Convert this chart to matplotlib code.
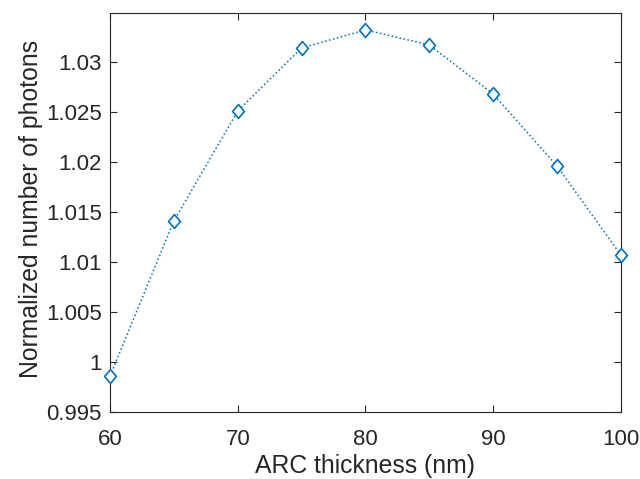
import matplotlib
matplotlib.use("Agg")
import matplotlib.pyplot as plt
from matplotlib.path import Path

thickness = [60, 65, 70, 75, 80, 85, 90, 95, 100]
photons = [0.9986, 1.0141, 1.0251, 1.0314, 1.0332, 1.0317, 1.0268, 1.0196, 1.0107]
xticks = [60, 70, 80, 90, 100]
yticks = [0.995, 1.0, 1.005, 1.01, 1.015, 1.02, 1.025, 1.03]
yticklabels = ["0.995", "1", "1.005", "1.01", "1.015", "1.02", "1.025", "1.03"]

plt.rcParams['font.family'] = ['Liberation Sans', 'DejaVu Sans']
dark = '#262626'

fig = plt.figure(figsize=(6.4, 4.79), dpi=100)
ax = fig.add_axes([0.172, 0.140, 0.798, 0.833])

diamond = Path([(0, 1), (0.85, 0), (0, -1), (-0.85, 0), (0, 1)],
               [Path.MOVETO, Path.LINETO, Path.LINETO, Path.LINETO, Path.CLOSEPOLY])
ax.plot(thickness, photons, linestyle=':', color='#0072BD', linewidth=1.1,
        marker=diamond, markersize=10, markerfacecolor='white',
        markeredgecolor='#0072BD', markeredgewidth=1.2, clip_on=False, zorder=3)

ax.set_xlim(60, 100)
ax.set_ylim(0.995, 1.0349)
ax.set_xticks(xticks)
ax.set_yticks(yticks)
ax.set_yticklabels(yticklabels)
ax.tick_params(direction='in', length=5, width=0.8, colors=dark, labelsize=16,
               top=True, right=True)
ax.tick_params(axis='x', pad=12)
ax.tick_params(axis='y', pad=6)
for s in ax.spines.values():
    s.set_color(dark)
    s.set_linewidth(0.8)
ax.set_xlabel('ARC thickness (nm)', fontsize=17.8, color=dark, labelpad=3)
ax.set_ylabel('Normalized number of photons', fontsize=17.8, color=dark, labelpad=2)
ax.yaxis.label.set_y(0.51)

fig.savefig('out.png', dpi=100)
